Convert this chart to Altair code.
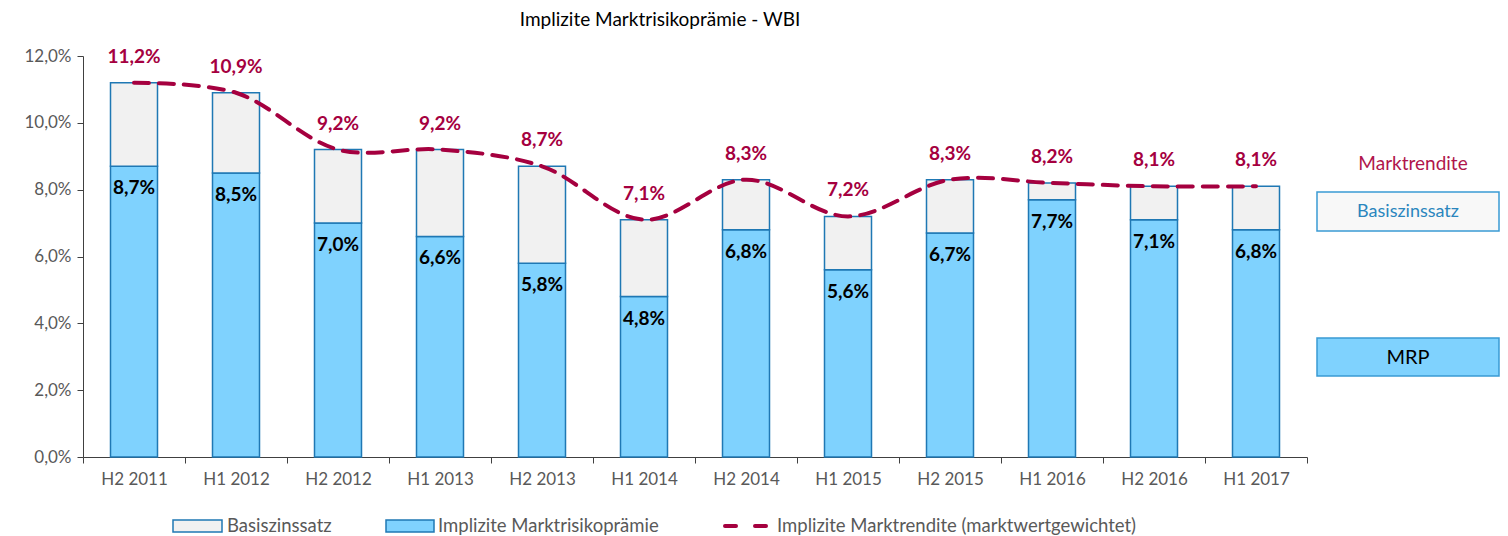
import altair as alt
import pandas as pd

categories = ["H2 2011", "H1 2012", "H2 2012", "H1 2013", "H2 2013", "H1 2014",
              "H2 2014", "H1 2015", "H2 2015", "H1 2016", "H2 2016", "H1 2017"]
mrp = [8.7, 8.5, 7.0, 6.6, 5.8, 4.8, 6.8, 5.6, 6.7, 7.7, 7.1, 6.8]
basis = [2.5, 2.4, 2.2, 2.6, 2.9, 2.3, 1.5, 1.6, 1.6, 0.5, 1.0, 1.3]
markt = [11.2, 10.9, 9.2, 9.2, 8.7, 7.1, 8.3, 7.2, 8.3, 8.2, 8.1, 8.1]

FONT = "Lato"
CRIMSON = "#A5003F"
BAR_STROKE = "#1F78B4"
MRP_FILL = "#7FD2FE"
BASIS_FILL = "#F1F1F1"
GRAY = "#595959"

df = pd.DataFrame({"cat": categories, "mrp": mrp, "basis": basis, "markt": markt})
df["mrp_lbl"] = [f"{v:.1f}%".replace(".", ",") for v in mrp]
df["markt_lbl"] = [f"{v:.1f}%".replace(".", ",") for v in markt]

x_enc = alt.X("cat:N", sort=categories, title=None,
              scale=alt.Scale(paddingInner=0, paddingOuter=0),
              axis=alt.Axis(labelAngle=0, tickBand="extent", labelFontSize=17,
                            labelColor=GRAY, labelFont=FONT, labelPadding=8,
                            domainColor="#404040", tickColor="#404040", tickSize=6))
y_scale = alt.Scale(domain=[0, 12], nice=False)
y_axis = alt.Axis(values=[0, 2, 4, 6, 8, 10, 12], grid=False, title=None,
                  labelExpr="replace(format(datum.value, '.1f'), '.', ',') + '%'",
                  labelFontSize=17, labelColor=GRAY, labelFont=FONT, labelPadding=6,
                  domainColor="#404040", tickColor="#404040", tickSize=6)

base = alt.Chart(df)

bars_mrp = base.mark_bar(size=47, fill=MRP_FILL, stroke=BAR_STROKE, strokeWidth=1.5).encode(
    x=x_enc, y=alt.Y("mrp:Q", scale=y_scale, axis=y_axis), y2=alt.datum(0))

bars_basis = base.transform_calculate(top="datum.mrp + datum.basis").mark_bar(
    size=47, fill=BASIS_FILL, stroke=BAR_STROKE, strokeWidth=1.5).encode(
    x=alt.X("cat:N", sort=categories), y=alt.Y("mrp:Q"), y2="top:Q")

line = base.mark_line(color=CRIMSON, strokeWidth=4, strokeDash=[15, 10],
                      strokeCap="round", interpolate="catmull-rom").encode(
    x=alt.X("cat:N", sort=categories), y=alt.Y("markt:Q"))

lbl_mrp = base.mark_text(font=FONT, fontSize=19, fontWeight="bold", color="black",
                         dy=22).encode(
    x=alt.X("cat:N", sort=categories), y=alt.Y("mrp:Q"), text="mrp_lbl:N")

lbl_markt = base.mark_text(font=FONT, fontSize=19, fontWeight="bold", color=CRIMSON,
                           dy=-26).encode(
    x=alt.X("cat:N", sort=categories), y=alt.Y("markt:Q"), text="markt_lbl:N")

# title
title = alt.Chart(pd.DataFrame({"t": ["Implizite Marktrisikoprämie - WBI"]})).mark_text(
    font=FONT, fontSize=19, color="black").encode(
    x=alt.value(577), y=alt.value(-36), text="t:N")

# right-hand annotation boxes
right_txt = alt.Chart(pd.DataFrame({"t": ["Marktrendite"]})).mark_text(
    font=FONT, fontSize=19, color="#B0154C").encode(
    x=alt.value(1330), y=alt.value(108), text="t:N")
box_basis = alt.Chart(pd.DataFrame({"t": ["Basiszinssatz"]})).mark_rect(
    fill="#F8F8F8", stroke="#3A9AD4", strokeWidth=1.5).encode(
    x=alt.value(1234), x2=alt.value(1416), y=alt.value(136), y2=alt.value(175))
box_basis_t = alt.Chart(pd.DataFrame({"t": ["Basiszinssatz"]})).mark_text(
    font=FONT, fontSize=18, color="#2A86BE").encode(
    x=alt.value(1325), y=alt.value(156), text="t:N")
box_mrp = alt.Chart(pd.DataFrame({"t": ["MRP"]})).mark_rect(
    fill=MRP_FILL, stroke="#3A9AD4", strokeWidth=1.5).encode(
    x=alt.value(1234), x2=alt.value(1416), y=alt.value(282), y2=alt.value(320))
box_mrp_t = alt.Chart(pd.DataFrame({"t": ["MRP"]})).mark_text(
    font=FONT, fontSize=20, color="black").encode(
    x=alt.value(1325), y=alt.value(302), text="t:N")

# bottom legend
LY = 470
leg_basis = alt.Chart(pd.DataFrame({"t": ["Basiszinssatz"]})).mark_rect(
    fill=BASIS_FILL, stroke=BAR_STROKE, strokeWidth=1.5).encode(
    x=alt.value(90), x2=alt.value(139), y=alt.value(LY - 6), y2=alt.value(LY + 6))
leg_basis_t = alt.Chart(pd.DataFrame({"t": ["Basiszinssatz"]})).mark_text(
    font=FONT, fontSize=18.5, color=GRAY, align="left").encode(
    x=alt.value(144), y=alt.value(LY), text="t:N")
leg_mrp = alt.Chart(pd.DataFrame({"t": ["Implizite Marktrisikoprämie"]})).mark_rect(
    fill=MRP_FILL, stroke=BAR_STROKE, strokeWidth=1.5).encode(
    x=alt.value(303), x2=alt.value(351), y=alt.value(LY - 6), y2=alt.value(LY + 6))
leg_mrp_t = alt.Chart(pd.DataFrame({"t": ["Implizite Marktrisikoprämie"]})).mark_text(
    font=FONT, fontSize=18.5, color=GRAY, align="left").encode(
    x=alt.value(355), y=alt.value(LY), text="t:N")
leg_line = alt.Chart(pd.DataFrame({"t": ["Implizite Marktrendite (marktwertgewichtet)"]})).mark_rule(
    color=CRIMSON, strokeWidth=4, strokeDash=[11, 19], strokeCap="round").encode(
    x=alt.value(642), x2=alt.value(686), y=alt.value(LY))
leg_line_t = alt.Chart(pd.DataFrame({"t": ["Implizite Marktrendite (marktwertgewichtet)"]})).mark_text(
    font=FONT, fontSize=18.5, color=GRAY, align="left").encode(
    x=alt.value(694), y=alt.value(LY), text="t:N")

chart = alt.layer(
    bars_mrp, bars_basis, line, lbl_mrp, lbl_markt, title,
    right_txt, box_basis, box_basis_t, box_mrp, box_mrp_t,
    leg_basis, leg_basis_t, leg_mrp, leg_mrp_t, leg_line, leg_line_t,
).properties(
    width=1224, height=401,
    padding={"left": 75, "top": 48, "right": 193, "bottom": 78},
    autosize="none",
    background="white",
).configure_view(stroke=None)

chart.save("out.html", embed_options={"renderer": "svg", "actions": False})
